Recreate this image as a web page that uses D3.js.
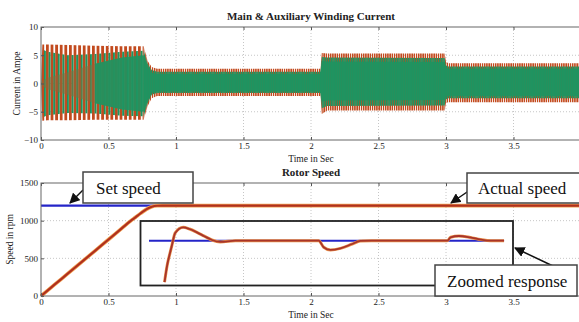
<!DOCTYPE html>
<html><head><meta charset="utf-8">
<script src="https://cdn.jsdelivr.net/npm/d3@7/dist/d3.min.js"></script>
<style>
body{margin:0;background:#fff;}
svg{display:block;}
svg text{font-family:"Liberation Serif","Times New Roman",Times,serif;}
.tick text{font-size:9px;fill:#222;}
</style></head><body>
<svg id="c" width="579" height="322"></svg>
<script>
// ---- data ----
const xTicks = [0, 0.5, 1, 1.5, 2, 2.5, 3, 3.5, 4];
const xTickLabels = ["0", "0.5", "1", "1.5", "2", "2.5", "3", "3.5", ""];
const curTicks = [-10, -5, 0, 5, 10];
const spdTicks = [0, 500, 1000, 1500];

// current envelopes (A) at envelope times (s)
const tEnv     = [0, 0.01, 0.05, 0.2, 0.4, 0.6, 0.76, 0.79, 0.82, 0.86, 2.07, 2.08, 2.12, 2.99, 3.0, 3.02, 4.0];
const orangeHi = [0, 6.9, 6.9, 6.8, 6.7, 6.6, 6.6, 4.0, 2.9, 2.6, 2.6, 5.4, 5.3, 5.3, 3.8, 3.6, 3.6];
const orangeLo = [0,-6.6,-6.5,-6.5,-6.4,-6.4,-6.4,-4.0,-2.6,-2.2,-2.2,-5.4,-4.8,-4.8,-3.4,-3.3,-3.3];
const greenHi  = [0, 6.0, 5.6, 5.0, 5.2, 5.6, 5.8, 3.5, 2.4, 2.1, 2.1, 4.7, 4.6, 4.5, 3.2, 3.0, 3.0];
const greenLo  = [0,-6.0,-5.6,-5.2,-5.3,-5.7,-5.8,-3.5,-2.0,-1.7,-1.7,-4.4,-4.0,-3.9,-2.8,-2.6,-2.6];
const coreHi   = [0, 0.5, 1.0, 2.0, 3.5, 4.6, 5.0, 3.0, 1.9, 1.7, 1.7, 4.0, 3.9, 3.8, 2.8, 2.6, 2.6];
const coreLo   = [0,-0.5,-1.0,-2.0,-3.5,-4.6,-5.0,-3.0,-1.7,-1.4,-1.4,-3.2,-3.0,-2.9,-2.3,-2.2,-2.2];

// rotor speed (rpm)
const setT   = [0, 4];
const setRpm = [1200, 1200];
const actT   = [0, 0.1, 0.2, 0.3, 0.4, 0.5, 0.6, 0.66, 0.7, 0.74, 0.78, 0.82, 0.86, 0.9, 2.0, 4.0];
const actRpm = [0, 150, 300, 450, 600, 750, 900, 990, 1045, 1100, 1150, 1185, 1198, 1200, 1200, 1200];

// zoomed response (rpm, magnified)
const zSetT   = [0.80, 3.43];
const zSetRpm = [1200, 1200];
const zT   = [0.915, 0.935, 0.955, 0.97, 0.994, 1.053, 1.1, 1.155, 1.21, 1.266, 1.328, 1.44, 2.03, 2.057, 2.094, 2.144, 2.218, 2.305, 2.366, 2.45, 3.01, 3.034, 3.096, 3.18, 3.257, 3.33, 3.43];
const zRpm = [1154, 1173, 1186, 1195, 1208.6, 1214.9, 1213, 1209.3, 1205, 1200.8, 1198.6, 1200, 1200, 1200, 1192.7, 1189.7, 1191.5, 1196.3, 1199.7, 1200, 1200, 1203.8, 1205.2, 1203.6, 1201.3, 1200, 1200];

// ---- drawing ----
const svg = d3.select("#c");
const L = 41, R = 581;
const x = d3.scaleLinear().domain([0, 4]).range([L, R]);
const yC = d3.scaleLinear().domain([-10, 10]).range([140, 27]);
const yS = d3.scaleLinear().domain([0, 1500]).range([296, 183]);
const yZ = d3.scaleLinear().domain([1150, 1220]).range([285.7, 222.7]);

const defs = svg.append("defs");
function stripes(id, period, w, color, off) {
  const p = defs.append("pattern").attr("id", id).attr("patternUnits", "userSpaceOnUse")
    .attr("width", period).attr("height", 10).attr("x", off || 0);
  p.append("rect").attr("x", 0).attr("y", 0).attr("width", w).attr("height", 10).attr("fill", color);
}
const OR = "#c24a1e", GR = "#1e9460";
stripes("oCoarse", 4.6, 2.8, OR, 0);
stripes("gCoarse", 4.6, 2.0, GR, 2.6);
stripes("oFine", 2.2, 1.5, OR, 0);
stripes("gFine", 2.2, 1.7, GR, 1.1);

function grid(y, yt) {
  const g = svg.append("g");
  xTicks.slice(1, -1).forEach(t => g.append("line").attr("x1", x(t)).attr("x2", x(t))
    .attr("y1", y.range()[1]).attr("y2", y.range()[0]));
  yt.slice(1, -1).forEach(v => g.append("line").attr("x1", L).attr("x2", R)
    .attr("y1", y(v)).attr("y2", y(v)));
  g.selectAll("line").attr("stroke", "#b8b8b8").attr("stroke-width", 0.8).attr("stroke-dasharray", "1,2");
}
function axes(y, yt, ylab, title, labX) {
  const top = y.range()[1], bot = y.range()[0];
  const gx = svg.append("g").attr("transform", `translate(0,${bot})`)
    .call(d3.axisBottom(x).tickValues(xTicks).tickFormat((d, i) => xTickLabels[i]).tickSize(-3).tickPadding(3));
  gx.select(".domain").remove();
  gx.selectAll("line").attr("stroke", "#555");
  const gx2 = svg.append("g").attr("transform", `translate(0,${top})`)
    .call(d3.axisTop(x).tickValues(xTicks).tickFormat("").tickSize(-3));
  gx2.select(".domain").remove(); gx2.selectAll("line").attr("stroke", "#555");
  const gy = svg.append("g").attr("transform", `translate(${L},0)`)
    .call(d3.axisLeft(y).tickValues(yt).tickFormat(d3.format("d")).tickSize(-3).tickPadding(3));
  gy.select(".domain").remove(); gy.selectAll("line").attr("stroke", "#555");
  svg.append("rect").attr("x", L).attr("y", top).attr("width", R - L).attr("height", bot - top)
    .attr("fill", "none").attr("stroke", "#666").attr("stroke-width", 1);
  svg.append("text").attr("x", (L + R) / 2).attr("y", top - 7).attr("text-anchor", "middle")
    .attr("font-weight", "bold").attr("font-size", 11).attr("fill", "#222").text(title);
  svg.append("text").attr("x", (L + R) / 2).attr("y", bot + 21.5).attr("text-anchor", "middle")
    .attr("font-size", 9.5).attr("fill", "#222").text("Time in Sec");
  svg.append("text").attr("transform", `translate(${labX},${(top + bot) / 2}) rotate(-90)`)
    .attr("text-anchor", "middle").attr("font-size", 9.5).attr("fill", "#222").text(ylab);
}

// ---- current plot ----
grid(yC, curTicks);
const env = tEnv.map((t, i) => ({t, oh: orangeHi[i], ol: orangeLo[i], gh: greenHi[i], gl: greenLo[i], ch: coreHi[i], cl: coreLo[i]}));
const early = env.filter(d => d.t <= 0.77), late = env.filter(d => d.t >= 0.76);
const band = (hi, lo) => d3.area().x(d => x(d.t)).y0(d => yC(d[lo])).y1(d => yC(d[hi]));
const gC = svg.append("g");
gC.append("path").datum(early).attr("d", band("oh", "ol")).attr("fill", "url(#oCoarse)");
gC.append("path").datum(early).attr("d", band("gh", "gl")).attr("fill", "url(#gCoarse)");
gC.append("path").datum(late).attr("d", band("oh", "ol")).attr("fill", "url(#oFine)");
gC.append("path").datum(late).attr("d", band("gh", "gl")).attr("fill", "url(#gFine)");
gC.append("path").datum(env.filter(d => d.t <= 0.6)).attr("d", band("ch", "cl")).attr("fill", "#8a6a3a").attr("opacity", 0.55);
gC.append("path").datum(env.filter(d => d.t >= 0.4)).attr("d", band("ch", "cl")).attr("fill", GR).attr("opacity", 0.9);
axes(yC, curTicks, "Current in Ampe", "Main & Auxiliary Winding Current", 20);

// ---- speed plot ----
grid(yS, spdTicks);
const line = (xs, ys, ysc) => d3.line().x((d, i) => x(xs[i])).y((d, i) => ysc(ys[i]));
svg.append("path").datum(setT).attr("d", line(setT, setRpm, yS)).attr("fill", "none").attr("stroke", "#2424c8").attr("stroke-width", 2.2);
svg.append("path").datum(actT).attr("d", line(actT, actRpm, yS).curve(d3.curveMonotoneX)).attr("fill", "none").attr("stroke", "#f0a050").attr("stroke-width", 3.6);
svg.append("path").datum(actT).attr("d", line(actT, actRpm, yS).curve(d3.curveMonotoneX)).attr("fill", "none").attr("stroke", "#b0301e").attr("stroke-width", 2.2);
axes(yS, spdTicks, "Speed in rpm", "Rotor Speed", 13);

// inset
svg.append("rect").attr("x", 140.5).attr("y", 221).attr("width", 372.5).attr("height", 64.5)
  .attr("fill", "none").attr("stroke", "#222").attr("stroke-width", 1.8);
svg.append("path").datum(zSetT).attr("d", line(zSetT, zSetRpm, yZ)).attr("fill", "none").attr("stroke", "#2424c8").attr("stroke-width", 2);
svg.append("path").datum(zT).attr("d", line(zT, zRpm, yZ).curve(d3.curveMonotoneX)).attr("fill", "none").attr("stroke", "#e8904a").attr("stroke-width", 3);
svg.append("path").datum(zT).attr("d", line(zT, zRpm, yZ).curve(d3.curveMonotoneX)).attr("fill", "none").attr("stroke", "#a8342a").attr("stroke-width", 1.8);

// annotations
defs.append("marker").attr("id", "ah").attr("viewBox", "0 0 10 10").attr("refX", 9).attr("refY", 5)
  .attr("markerWidth", 7).attr("markerHeight", 7).attr("orient", "auto")
  .append("path").attr("d", "M0,0L10,5L0,10z").attr("fill", "#111");
function note(bx, by, bw, bh, txt, tx, ax1, ay1, ax2, ay2) {
  svg.append("line").attr("x1", ax1).attr("y1", ay1).attr("x2", ax2).attr("y2", ay2)
    .attr("stroke", "#111").attr("stroke-width", 1.5).attr("marker-end", "url(#ah)");
  svg.append("rect").attr("x", bx).attr("y", by).attr("width", bw).attr("height", bh)
    .attr("fill", "#fff").attr("stroke", "#444").attr("stroke-width", 1.5);
  svg.append("text").attr("x", tx).attr("y", by + bh / 2 + 6)
    .attr("font-size", 17).attr("fill", "#111").text(txt);
}
note(83, 172, 110, 31, "Set speed", 96, 83, 190, 70, 203);
note(467, 173, 118, 30, "Actual speed", 478, 470, 190, 451, 203);
note(435, 265, 142, 31, "Zoomed response", 447, 553, 266, 515, 248);
</script></body></html>
